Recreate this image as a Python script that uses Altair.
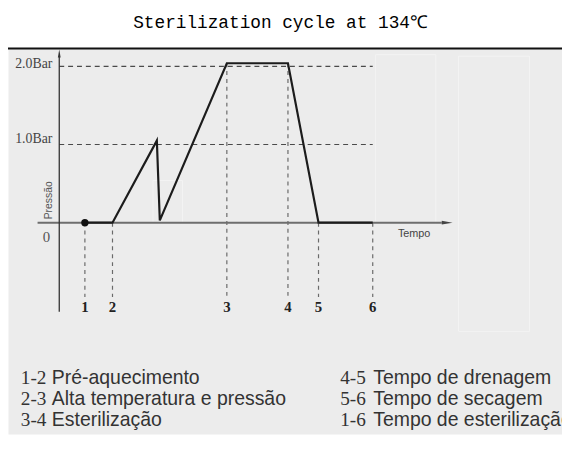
import altair as alt
import pandas as pd

# ---------------- data ----------------
phase_labels = ["1", "2", "3", "4", "5", "6"]
phase_times = [2.6, 5.4, 17.0, 23.2, 26.3, 31.8]
phase_tops = [0.0, 0.0, 2.04, 2.04, 0.0, 0.0]

curve_time = [2.6, 5.4, 9.9, 10.2, 17.0, 23.2, 26.3, 31.8]
curve_pressure = [0.0, 0.0, 1.05, 0.03, 2.04, 2.04, 0.0, 0.0]

grid_levels = [2.0, 1.0]
grid_labels = ["2.0Bar", "1.0Bar"]

legend_codes = ["1-2", "2-3", "3-4", "4-5", "5-6", "1-6"]
legend_texts = ["Pré-aquecimento", "Alta temperatura e pressão", "Esterilização",
                "Tempo de drenagem", "Tempo de secagem", "Tempo de esterilização"]

title_text = "Sterilization cycle at 134℃"

# ---------------- layout ----------------
X_MIN, X_MAX = -5.2, 51.0
Y_MIN, Y_MAX = -2.702, 2.228
xs = alt.Scale(domain=[X_MIN, X_MAX], nice=False, zero=False)
ys = alt.Scale(domain=[Y_MIN, Y_MAX], nice=False, zero=False)


def X(f):
    return alt.X(f"{f}:Q", scale=xs, axis=None)


def Y(f):
    return alt.Y(f"{f}:Q", scale=ys, axis=None)


curve_df = pd.DataFrame({"t": curve_time, "p": curve_pressure, "i": range(len(curve_time))})
phase_df = pd.DataFrame({"lab": phase_labels, "t": phase_times, "top": phase_tops,
                         "bottom": [-0.95] * 6, "ly": [-1.076] * 6})
grid_df = pd.DataFrame({"level": grid_levels, "lab": grid_labels,
                        "x0": [0.0, 0.0], "x1": [phase_times[-1]] * 2,
                        "lx": [-0.7, -0.7], "ly": [2.03, 1.07]})
rows = [-1.984, -2.261, -2.526]
legend_df = pd.DataFrame({
    "code": legend_codes, "desc": legend_texts,
    "cx": [-3.9] * 3 + [28.5] * 3,
    "dx": [-0.75] * 3 + [31.85] * 3,
    "p": rows + rows,
})

# faint artefact boxes from the original scan
boxes_df = pd.DataFrame({"x0": [32.1, 40.5, 9.5], "x1": [38.2, 47.7, 12.5],
                         "y0": [2.15, 2.13, 0.54], "y1": [0.0, -1.39, 0.0]})

base = alt.Chart(curve_df)

boxes = alt.Chart(boxes_df).mark_rect(fill="transparent", stroke="#f3f3f3", strokeWidth=1).encode(
    x=X("x0"), x2="x1:Q", y=Y("y0"), y2="y1:Q")

grid = alt.Chart(grid_df).mark_rule(color="#4a4a4a", strokeWidth=1.1, strokeDash=[5, 4]).encode(
    x=X("x0"), x2="x1:Q", y=Y("level"))

grid_text = alt.Chart(grid_df).mark_text(
    font="Liberation Serif", fontSize=14, align="right", baseline="middle",
    color="#444").encode(x=X("lx"), y=Y("ly"), text="lab:N")

vdash = alt.Chart(phase_df).mark_rule(color="#6a6a6a", strokeWidth=1.2, strokeDash=[4, 4]).encode(
    x=X("t"), y=Y("top"), y2="bottom:Q")

phase_text = alt.Chart(phase_df).mark_text(
    font="Liberation Serif", fontSize=15, fontWeight="bold", baseline="middle", color="#222").encode(
    x=X("t"), y=Y("ly"), text="lab:N")

yaxis_df = pd.DataFrame({"t": [0.0], "a": [-1.139], "b": [2.12], "tip": [2.165]})
yaxis = alt.Chart(yaxis_df).mark_rule(color="#333", strokeWidth=1.3).encode(
    x=X("t"), y=Y("a"), y2="b:Q")
yarrow = alt.Chart(yaxis_df).mark_point(
    shape="M0,-1L0.35,1L-0.35,1Z", size=64, filled=True, opacity=1, color="#333").encode(
    x=X("t"), y=Y("tip"))

xaxis_df = pd.DataFrame({"p": [0.0], "a": [-2.2], "b": [38.8], "tip": [39.35]})
xaxis = alt.Chart(xaxis_df).mark_rule(color="#6e6e6e", strokeWidth=2).encode(
    x=X("a"), x2="b:Q", y=Y("p"))
xarrow = alt.Chart(xaxis_df).mark_point(
    shape="M1,0L-1,-0.35L-1,0.35Z", size=121, filled=True, opacity=1, color="#444").encode(
    x=X("tip"), y=Y("p"))

curve = base.mark_line(color="#1c1c1c", strokeWidth=2.2, strokeJoin="miter").encode(
    x=X("t"), y=Y("p"), order="i:Q")

dot_df = pd.DataFrame({"t": [phase_times[0]], "p": [0.0]})
dot = alt.Chart(dot_df).mark_circle(size=55, color="#111", opacity=1).encode(x=X("t"), y=Y("p"))

ann_df = pd.DataFrame({"txt": ["0"], "t": [-1.3], "p": [-0.19]})
zero_text = alt.Chart(ann_df).mark_text(font="Liberation Serif", fontSize=15, color="#555",
                                        baseline="middle").encode(x=X("t"), y=Y("p"), text="txt:N")

pres_df = pd.DataFrame({"txt": ["Pressão"], "t": [-1.0], "p": [0.286]})
pres_text = alt.Chart(pres_df).mark_text(font="Liberation Sans", fontSize=10.5, color="#555",
                                         angle=270, baseline="middle").encode(
    x=X("t"), y=Y("p"), text="txt:N")

tempo_df = pd.DataFrame({"txt": ["Tempo"], "t": [36.0], "p": [-0.14]})
tempo_text = alt.Chart(tempo_df).mark_text(font="Liberation Sans", fontSize=11, color="#444",
                                           baseline="middle").encode(
    x=X("t"), y=Y("p"), text="txt:N")

leg_code = alt.Chart(legend_df).mark_text(font="Liberation Serif", fontSize=19.5, color="#333",
                                          align="left", baseline="middle").encode(
    x=X("cx"), y=Y("p"), text="code:N")
leg_desc = alt.Chart(legend_df).mark_text(font="Liberation Sans", fontSize=19.7, color="#333",
                                          align="left", baseline="middle").encode(
    x=X("dx"), y=Y("p"), text="desc:N")

title_df = pd.DataFrame({"txt": [title_text]})
title = alt.Chart(title_df).mark_text(font="Liberation Mono", fontSize=18, color="#000",
                                      align="center", baseline="middle").encode(
    x=alt.value(276.5), y=alt.value(-26), text="txt:N")

top_line = alt.Chart(title_df).mark_rule(color="#111", strokeWidth=2).encode(
    x=alt.value(0), x2=alt.value(562), y=alt.value(0))

chart = alt.layer(
    boxes, grid, vdash, xaxis, xarrow, yaxis, yarrow, curve, dot,
    grid_text, phase_text, zero_text, pres_text, tempo_text, leg_code, leg_desc,
    title, top_line,
).properties(
    width=562, height=391,
    autosize=alt.AutoSizeParams(type="none"),
    padding={"left": 0, "top": 38, "right": 0, "bottom": 0},
    background="white",
).configure_view(fill="#ececec", stroke="transparent")

chart.save("out.html", embed_options={"renderer": "svg", "actions": False})
